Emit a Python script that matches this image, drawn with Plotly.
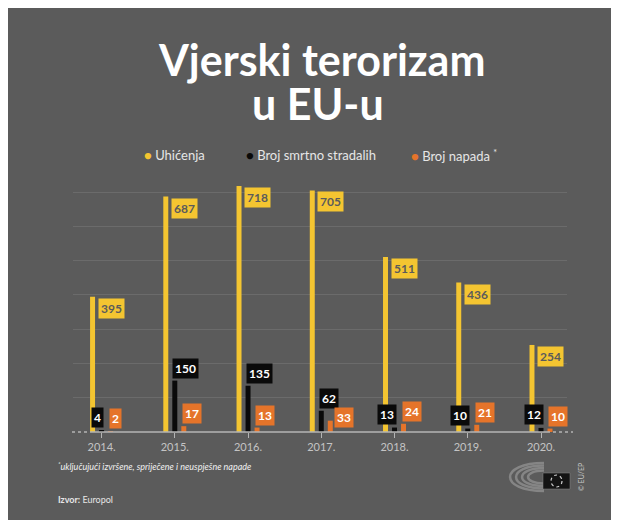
import plotly.graph_objects as go

# podaci (Europol)
godine = ["2014.", "2015.", "2016.", "2017.", "2018.", "2019.", "2020."]
uhicenja = [395, 687, 718, 705, 511, 436, 254]
smrtno_stradalih = [4, 150, 135, 62, 13, 10, 12]
broj_napada = [2, 17, 13, 33, 24, 21, 10]

ZUTA = "#f4c531"
CRNA = "#0a0a0a"
NARANCASTA = "#e5742a"
POZADINA = "#5b5b5b"
FONT = "Lato"

# stranica ima 8px margine tijela, pozicije su mjerene na slici
OFF = 8
W, H = 619, 520
ML, MR, MT, MB = 65, 60, 167, 96
PW, PH = W - ML - MR, H - MT - MB


def px(x):
    return (x - OFF - ML) / PW


def py(y):
    return (H - MB - (y - OFF)) / PH


x = list(range(len(godine)))
bw = 0.068

fig = go.Figure()
fig.add_trace(go.Bar(x=x, y=uhicenja, width=bw, offset=-0.123 - bw / 2,
                     marker=dict(color=ZUTA, line=dict(width=0)), name="Uhićenja"))
fig.add_trace(go.Bar(x=x, y=smrtno_stradalih, width=bw, offset=-bw / 2,
                     marker=dict(color=CRNA, line=dict(width=0)), name="Broj smrtno stradalih"))
fig.add_trace(go.Bar(x=x, y=broj_napada, width=bw, offset=0.123 - bw / 2,
                     marker=dict(color=NARANCASTA, line=dict(width=0)), name="Broj napada"))

ann = []
lbl_font = dict(family=FONT, size=12, color="white")

for i, v in enumerate(uhicenja):
    ann.append(dict(x=i, y=v, xref="x", yref="y", text=f"<b>{v}</b>", showarrow=False,
                    xanchor="left", yanchor="top", xshift=-4, yshift=-1,
                    bgcolor=ZUTA, borderpad=2, font=dict(lbl_font, color="#5b5b5b")))

for i, v in enumerate(smrtno_stradalih):
    if v >= 50:
        a = dict(xanchor="left", xshift=-2.5, yshift=2)
    else:
        a = dict(xanchor="right", xshift=2.5, yshift=3)
    ann.append(dict(x=i, y=v, xref="x", yref="y", text=f"<b>{v}</b>", showarrow=False,
                    yanchor="bottom", bgcolor=CRNA, borderpad=2, font=lbl_font, **a))

for i, v in enumerate(broj_napada):
    if 50 <= smrtno_stradalih[i] < 100:
        a = dict(y=0, xshift=13, yshift=4)
    else:
        a = dict(y=v, xshift=7, yshift=2)
    ann.append(dict(x=i, xref="x", yref="y", text=f"<b>{v}</b>", showarrow=False,
                    xanchor="left", yanchor="bottom", bgcolor=NARANCASTA, borderpad=2,
                    font=lbl_font, **a))

# naslov
ann.append(dict(x=px(321), y=py(59), xref="paper", yref="paper", showarrow=False,
                text="<b>Vjerski terorizam</b>", font=dict(family=FONT, size=43, color="white"),
                xanchor="center", yanchor="middle"))
ann.append(dict(x=px(318), y=py(103), xref="paper", yref="paper", showarrow=False,
                text="<b>u EU-u</b>", font=dict(family=FONT, size=43, color="white"),
                xanchor="center", yanchor="middle"))

# legenda
legenda = [("Uhićenja", ZUTA, 142), ("Broj smrtno stradalih", CRNA, 244),
           ("Broj napada <sup>*</sup>", NARANCASTA, 409)]
for txt, col, xp in legenda:
    ann.append(dict(x=px(xp), y=py(155), xref="paper", yref="paper", showarrow=False,
                    xanchor="left", yanchor="middle",
                    text=f"<span style='color:{col}'>●</span> {txt}",
                    font=dict(family=FONT, size=13, color="#e6e6e6")))

# fusnota i izvor
ann.append(dict(x=px(56), y=py(466), xref="paper", yref="paper", showarrow=False,
                xanchor="left", yanchor="middle",
                text="<i><sup>*</sup>uključujući izvršene, spriječene i neuspješne napade</i>",
                font=dict(family=FONT, size=9, color="#f0f0f0")))
ann.append(dict(x=px(56), y=py(499), xref="paper", yref="paper", showarrow=False,
                xanchor="left", yanchor="middle", text="<b>Izvor:</b> Europol",
                font=dict(family=FONT, size=9, color="#e6e6e6")))
ann.append(dict(x=px(581), y=py(477), xref="paper", yref="paper", showarrow=False,
                xanchor="center", yanchor="middle", text="© EU/EP", textangle=-90,
                font=dict(family=FONT, size=7, color="#c8c8c8")))

shapes = [
    # os x
    dict(type="line", xref="paper", yref="paper", x0=px(90), x1=px(547), y0=0, y1=0,
         line=dict(color="#b4b4b4", width=1.5)),
    dict(type="line", xref="paper", yref="paper", x0=px(72), x1=px(90), y0=0, y1=0,
         line=dict(color="#b4b4b4", width=1.5, dash="dot")),
    dict(type="line", xref="paper", yref="paper", x0=px(547), x1=px(573), y0=0, y1=0,
         line=dict(color="#b4b4b4", width=1.5, dash="dot")),
]

# logo parlamenta (pojednostavljeno)
cx, cy = 544, 477
for rx, ry in [(34, 14), (28, 11.5), (22, 9), (16, 6.5)]:
    path = (f"M {px(cx)},{py(cy - ry)} "
            f"C {px(cx - rx * 1.33)},{py(cy - ry)} {px(cx - rx * 1.33)},{py(cy + ry)} "
            f"{px(cx)},{py(cy + ry)}")
    shapes.append(dict(type="path", xref="paper", yref="paper", path=path,
                       line=dict(color="#858585", width=2.5)))
shapes.append(dict(type="rect", xref="paper", yref="paper", x0=px(543), x1=px(570),
                   y0=py(489), y1=py(473), fillcolor="#141414", line=dict(color="#8a8a8a", width=0.5)))
shapes.append(dict(type="circle", xref="paper", yref="paper", x0=px(551), x1=px(562),
                   y0=py(487), y1=py(475), line=dict(color="#d0d0d0", width=1.2, dash="dot")))

fig.update_layout(
    width=W, height=H,
    margin=dict(l=ML, r=MR, t=MT, b=MB, pad=0),
    paper_bgcolor=POZADINA, plot_bgcolor=POZADINA,
    barmode="overlay", showlegend=False,
    font=dict(family=FONT, color="#c8c8c8"),
    annotations=ann, shapes=shapes,
    xaxis=dict(range=[-0.39, 6.355], tickvals=x, ticktext=godine, showgrid=False,
               zeroline=False, showline=False, ticks="outside", ticklen=5,
               tickcolor="#b4b4b4", tickwidth=1.2,
               tickfont=dict(family=FONT, size=11, color="#c4c4c4")),
    yaxis=dict(range=[0, 750], tickvals=[100, 200, 300, 400, 500, 600, 700],
               showticklabels=False, showgrid=True, gridcolor="#6b6b6b", gridwidth=1,
               zeroline=False, showline=False),
)

fig.write_html("out.html")
